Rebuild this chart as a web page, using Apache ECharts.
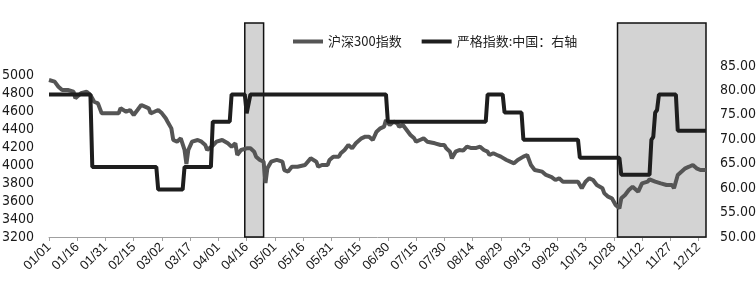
<!DOCTYPE html>
<html>
<head>
<meta charset="utf-8">
<script src="https://cdn.jsdelivr.net/npm/echarts@6/dist/echarts.min.js"></script>
<style>
html,body{margin:0;padding:0;background:#fff;}
#c{width:756px;height:293px;}
</style>
</head>
<body>
<div id="c"></div>
<script>
// ---- axis categories: every calendar day 01/01 .. 12/16 (2022) ----
var monthDays = [31,28,31,30,31,30,31,31,30,31,30,31];
var categories = [];
(function(){
  for (var m = 0; m < 12; m++) {
    for (var d = 1; d <= monthDays[m]; d++) {
      var s = (m < 9 ? '0' : '') + (m + 1) + '/' + (d < 10 ? '0' : '') + d;
      categories.push(s);
      if (s === '12/16') return;
    }
  }
})();

// ---- 沪深300指数 (left axis) ----
var csiDates = ['01/01','01/04','01/06','01/08','01/09','01/11','01/14','01/15','01/16','01/18','01/21','01/23','01/25','01/27','01/29',
'02/07','02/08','02/09','02/11','02/13','02/15','02/17','02/19','02/21','02/23','02/24','02/26','02/28',
'03/02','03/04','03/05','03/07','03/08','03/10','03/12','03/13','03/14','03/15','03/16','03/18','03/19','03/21','03/23','03/25','03/26','03/27','03/29','03/31',
'04/03','04/04','04/06','04/08','04/10','04/11','04/13','04/16','04/18','04/20','04/21','04/23','04/25','04/26','04/27','04/29',
'05/02','05/05','05/06','05/08','05/10','05/13','05/14','05/17','05/20','05/21','05/23','05/24','05/26','05/29','05/30',
'06/01','06/04','06/05','06/07','06/09','06/11','06/13','06/14','06/16','06/18','06/20','06/21','06/22','06/24','06/26','06/28','06/29',
'07/01','07/03','07/05','07/06','07/08','07/10','07/12','07/14','07/15','07/17','07/19','07/21','07/22','07/25','07/28','07/30','07/31',
'08/02','08/03','08/05','08/07','08/09','08/11','08/13','08/14','08/16','08/18','08/20','08/22','08/23','08/25','08/27','08/29','08/30',
'09/01','09/03','09/05','09/07','09/08','09/10','09/12','09/13','09/14','09/16','09/20','09/22','09/23','09/25','09/27','09/29',
'10/01','10/09','10/11','10/13','10/15','10/17','10/19','10/22','10/23','10/25','10/27','10/29','10/31',
'11/01','11/03','11/05','11/07','11/08','11/10','11/12','11/15','11/16','11/19','11/22','11/25','11/28','11/29',
'12/01','12/02','12/05','12/07','12/09','12/11','12/13','12/16'];
var csiValues = [4944,4926,4870,4833,4852,4833,4815,4741,4741,4797,4815,4778,4703,4685,4574,
4574,4630,4630,4592,4611,4556,4611,4667,4648,4630,4574,4592,4611,
4574,4519,4481,4407,4278,4259,4296,4278,4167,4010,4167,4259,4259,4278,4259,4222,4167,4167,4215,4259,
4278,4259,4241,4204,4241,4111,4167,4185,4185,4148,4093,4056,4037,3800,3963,4037,
4056,4037,3944,3926,3981,3981,4000,4000,4074,4074,4037,3981,4000,4000,4056,
4093,4093,4130,4167,4222,4185,4241,4259,4296,4315,4315,4333,4278,4370,4407,4426,4500,
4444,4481,4463,4426,4444,4389,4333,4296,4259,4278,4296,4259,4241,4241,4222,4222,4185,
4148,4074,4148,4167,4160,4204,4190,4204,4190,4204,4167,4148,4111,4130,4111,4093,4074,
4056,4037,4019,4056,4040,4093,4111,4090,4000,3944,3926,3889,3870,3865,3833,3852,
3815,3815,3741,3815,3852,3833,3778,3741,3685,3648,3630,3556,3519,
3630,3667,3722,3759,3778,3704,3796,3815,3841,3815,3796,3778,3778,3741,
3889,3907,3963,3981,4000,3963,3944,3944];

// ---- 严格指数:中国 (right axis) ----
var strictDates = ['01/01','01/23','01/24','02/27','02/28','03/13','03/14','03/28','03/29','04/07','04/08','04/15','04/16','04/17','04/18',
'06/29','06/30','08/21','08/22','08/30','08/31','09/09','09/10','10/09','10/10','10/31','11/01','11/16','11/17','11/18','11/19','11/20','11/21','11/30','12/01','12/16'];
var strictValues = [79.17,79.17,64.35,64.35,59.72,59.72,64.35,64.35,73.61,73.61,79.17,79.17,75.3,75.3,79.17,
79.17,73.61,73.61,79.17,79.17,75.46,75.46,69.91,69.91,66.2,66.2,62.73,62.73,69.91,70.5,75.46,76.0,79.17,79.17,71.76,71.76];

// ---- shaded periods ----
var shadeStart = ['04/15','10/30'];
var shadeEnd   = ['04/25','12/16'];

// ---- tick labels (top of each axis extends above the last labelled tick) ----
var leftMin = 3200, leftTopLabel = 5000, leftStep = 200, leftMax = 5577.8;
var rightMin = 50, rightTopLabel = 85, rightStep = 5, rightMax = 93.8;

function pairs(xs, ys){ var o=[]; for (var i=0;i<xs.length;i++) o.push([xs[i], ys[i]]); return o; }
var shadeData = [];
for (var i=0;i<shadeStart.length;i++) shadeData.push([{xAxis: shadeStart[i]},{xAxis: shadeEnd[i]}]);

var FONT = "Liberation Sans Narrow, DejaVu Sans Condensed, sans-serif";
var chart = echarts.init(document.getElementById('c'), null, {renderer:'canvas'});
chart.setOption({
  animation: false,
  backgroundColor: '#fff',
  legend: {
    left: 293, top: 35, padding: 0,
    icon: 'rect',
    itemWidth: 30, itemHeight: 4, itemGap: 20,
    textStyle: {fontFamily: "Noto Sans CJK SC, sans-serif", fontSize: 13, color: '#222'},
    data: ['沪深300指数', '严格指数:中国：右轴']
  },
  grid: {left: 49, right: 50, top: 23, bottom: 56, outerBoundsMode: 'none'},
  xAxis: {
    type: 'category', data: categories, boundaryGap: false,
    axisLine: {lineStyle: {color: '#a0a0a0', width: 1}},
    axisTick: {interval: 14, length: 4, lineStyle: {color: '#a0a0a0'}},
    axisLabel: {interval: 14, rotate: 45, fontSize: 13, color: '#1a1a1a'},
    splitLine: {show: false}
  },
  yAxis: [{
    type: 'value', min: leftMin, max: leftMax, interval: leftStep,
    axisLine: {show: false}, axisTick: {show: false}, splitLine: {show: false},
    axisLabel: {margin: 15, fontFamily: FONT, fontSize: 14, color: '#1a1a1a', showMaxLabel: false,
      formatter: function(v){ return v > leftTopLabel ? '' : String(v); }}
  }, {
    type: 'value', min: rightMin, max: rightMax, interval: rightStep, position: 'right',
    axisLine: {show: false}, axisTick: {show: false}, splitLine: {show: false},
    axisLabel: {margin: 14, fontFamily: FONT, fontSize: 14, color: '#1a1a1a', showMaxLabel: false,
      formatter: function(v){ return v > rightTopLabel ? '' : v.toFixed(2); }}
  }],
  series: [{
    name: 'shade', type: 'line', yAxisIndex: 0, data: [], z: 1, silent: true,
    markArea: {silent: true, itemStyle: {color: '#d3d3d3', borderColor: '#111', borderWidth: 1.5}, data: shadeData}
  }, {
    name: '沪深300指数', type: 'line', yAxisIndex: 0, z: 3,
    data: pairs(csiDates, csiValues), symbol: 'none', showSymbol: false,
    lineStyle: {color: '#555555', width: 4}, itemStyle: {color: '#555555'}
  }, {
    name: '严格指数:中国：右轴', type: 'line', yAxisIndex: 1, z: 4,
    data: pairs(strictDates, strictValues), symbol: 'none', showSymbol: false,
    lineStyle: {color: '#1e1e1e', width: 4}, itemStyle: {color: '#1e1e1e'}
  }]
});
</script>
</body>
</html>
